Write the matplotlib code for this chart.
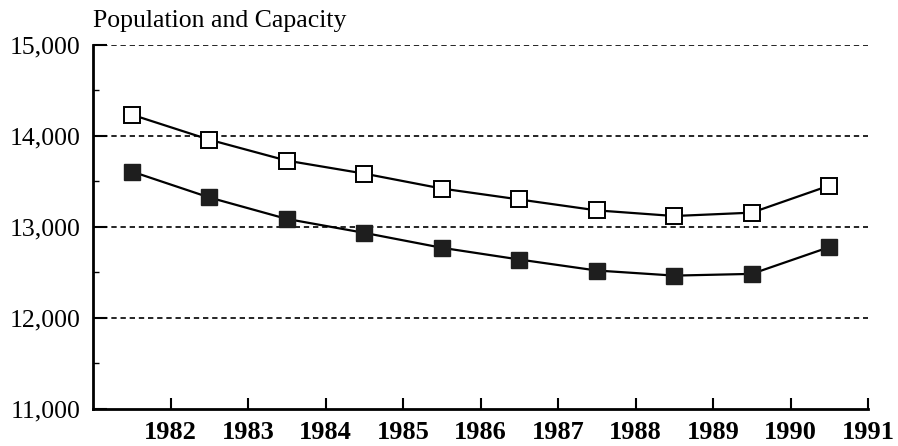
import numpy as np
import matplotlib.pyplot as plt
from matplotlib.ticker import FuncFormatter, MultipleLocator

# ---------------------------------------------------
# Data
# ---------------------------------------------------

years = [1982, 1983, 1984, 1985, 1986, 1987, 1988, 1989, 1990, 1991]

# points sit in the middle of each year interval
point_years = [1981.5, 1982.5, 1983.5, 1984.5, 1985.5,
               1986.5, 1987.5, 1988.5, 1989.5, 1990.5]

capacity = [14230, 13955, 13725, 13582, 13418,
            13298, 13178, 13116, 13153, 13450]

population = [13605, 13320, 13084, 12931, 12767,
              12638, 12517, 12461, 12480, 12774]

y_ticks = [11000, 12000, 13000, 14000, 15000]

# ---------------------------------------------------
# Figure
# ---------------------------------------------------

plt.rcParams["font.family"] = "Liberation Serif"

fig = plt.figure(figsize=(8.98, 4.46), dpi=100)
ax = fig.add_axes([0.1036, 0.084, 0.863, 0.816])

for value in y_ticks[1:]:
    ax.axhline(value, color="black", linewidth=1.2,
               linestyle=(0, (3.2, 2.3)), zorder=1)

ax.plot(point_years, population, color="black", linewidth=1.6,
        marker="s", markersize=11.5, markerfacecolor="#1e1e1e",
        markeredgecolor="#1e1e1e", zorder=3)

ax.plot(point_years, capacity, color="black", linewidth=1.6,
        marker="s", markersize=11.5, markerfacecolor="white",
        markeredgecolor="black", markeredgewidth=1.4, zorder=3)

ax.set_xlim(1981, 1991)
ax.set_ylim(11000, 15000)

ax.set_xticks(years)
ax.set_xticklabels([str(y) for y in years], fontsize=19, fontweight="bold")

ax.set_yticks(y_ticks)
ax.yaxis.set_major_formatter(FuncFormatter(lambda v, p: f"{int(v):,}"))
ax.yaxis.set_minor_locator(MultipleLocator(500))
for label in ax.get_yticklabels():
    label.set_fontsize(18.5)

ax.tick_params(axis="x", direction="in", length=8, width=1.5, pad=9)
ax.tick_params(axis="y", which="major", direction="in", length=10,
               width=1.5, pad=9)
ax.tick_params(axis="y", which="minor", direction="in", length=4, width=1)

for side in ["top", "right"]:
    ax.spines[side].set_visible(False)
for side in ["left", "bottom"]:
    ax.spines[side].set_linewidth(2)

ax.text(0.0, 1.035, "Population and Capacity", transform=ax.transAxes,
        fontsize=18.5, ha="left", va="bottom")

fig.savefig("out.png", dpi=100)
